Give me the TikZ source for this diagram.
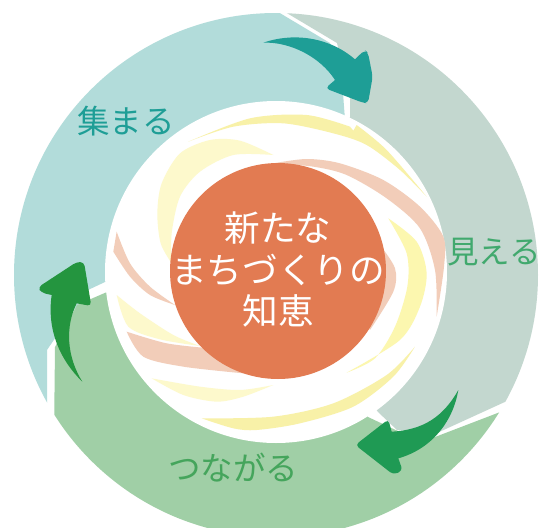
\documentclass[tikz,border=0pt]{standalone}
\usepackage{fontspec}
\newfontfamily\cjk{Noto Sans CJK JP}
\definecolor{ringteal}{HTML}{B2DCDA}
\definecolor{ringgray}{HTML}{C3D7CF}
\definecolor{ringgreen}{HTML}{A0CFA6}
\definecolor{swyel}{HTML}{F8F1A8}
\definecolor{swyelb}{HTML}{FCF7AF}
\definecolor{swpale}{HTML}{FDF9CC}
\definecolor{swpink}{HTML}{F2CDB9}
\definecolor{core}{HTML}{E27B52}
\definecolor{arteal}{HTML}{1E9E96}
\definecolor{argreen}{HTML}{1F9A54}
\definecolor{arleft}{HTML}{24953F}
\tikzset{
  labeltext/.style={font=\cjk\fontsize{32.5}{33}\selectfont,inner sep=0pt},
  coretext/.style={font=\cjk\fontsize{35.6}{36}\selectfont,text=white,inner sep=0pt},
  zoomed/.style={shift={#1},scale=1/3}
}
\begin{document}
\begin{tikzpicture}[x=1pt,y=-1pt]
\useasboundingbox (0,0) rectangle (542,528);
\fill[white] (0,0) rectangle (542,528);
% ring segments
\begin{scope}
\clip (276,275) circle[radius=262];
\fill[ringteal] (258,0) -- (0,0) -- (0,410) -- (47,410) -- (47,350) -- (88,290) -- (105,282) -- (276,272) -- (345,120) -- (343,93) -- (330,43) -- cycle;
\fill[ringgray] (265,0) -- (542,0) -- (542,385) -- (437,433) -- (397,430) -- (378,412) -- (276,272) -- (350,117) -- (350,97) -- (337,43) -- cycle;
\fill[ringgreen] (542,396) -- (435,437) -- (400,432) -- (368,417) -- (276,272) -- (107,292) -- (77,305) -- (55,347) -- (53,528) -- (542,528) -- cycle;
\end{scope}
% centre disc of the swirl
\fill[white] (276,272) circle[radius=171];
\begin{scope}[zoomed={(100,100)}]
% Y1
\fill[swyel] plot[smooth] coordinates {(265,125) (450,55) (620,45) (750,80)} -- (760,92) -- (770,75) -- plot[smooth] coordinates {(770,75) (860,150) (980,290)} -- plot[smooth] coordinates {(980,290) (900,210) (800,135) (700,100) (550,70) (400,80) (265,125)} -- cycle;
% Y2
\fill[swpale] plot[smooth] coordinates {(520,165) (420,122) (330,120) (240,160) (185,250) (172,340) (182,430) (215,490)} -- plot[smooth] coordinates {(215,490) (215,400) (240,290) (300,215) (400,165) (520,165)} -- cycle;
% P1
\fill[swpink] plot[smooth] coordinates {(520,190) (620,177) (720,190) (850,240) (960,320) (1030,410) (1032,500) (1010,650)} -- plot[smooth] coordinates {(1010,650) (1005,510) (960,385) (860,295) (740,225) (640,200) (520,190)} -- cycle;
% Y3
\fill[swyelb] plot[smooth] coordinates {(865,355) (950,425) (980,520) (960,620) (900,720) (740,818)} -- plot[smooth] coordinates {(740,818) (825,775) (885,680) (922,560) (920,460) (865,355)} -- cycle;
% P2
\fill[swpink] plot[smooth] coordinates {(840,435) (885,505) (880,575) (810,690)} -- (700,500) -- cycle;
% Y4
\fill[swyel] plot[smooth] coordinates {(945,740) (860,825) (700,910) (520,950) (305,955)} -- plot[smooth] coordinates {(305,955) (400,985) (470,990) (600,970) (760,920) (880,830) (945,740)} -- cycle;
% Y5
\fill[swpale] plot[smooth] coordinates {(155,835) (250,885) (350,905) (430,890) (520,855)} -- plot[smooth] coordinates {(520,855) (420,870) (300,860) (155,835)} -- cycle;
% P3
\fill[swpink] plot[smooth] coordinates {(80,695) (200,730) (330,745)} -- (430,820) -- plot[smooth] coordinates {(430,820) (250,800) (130,770) (80,695)} -- cycle;
% Y6
\fill[swpale] plot[smooth] coordinates {(50,585) (120,640) (220,705) (300,738)} -- plot[smooth] coordinates {(300,738) (180,718) (85,680) (50,585)} -- cycle;
% P4
\fill[swpink] plot[smooth] coordinates {(50,395) (90,490) (150,560) (225,615)} -- plot[smooth] coordinates {(225,615) (150,585) (90,530) (40,455)} -- cycle;
\end{scope}
% core
\fill[core] (278,271) circle[radius=108];
% arrows: head corners are rounded, the tail stays sharp
\begin{scope}[zoomed={(240,0)}]
\fill[arteal] (70,128) .. controls (150,100) and (260,105) .. (345,178) [rounded corners=4pt] -- (374,150) -- (384,158) -- (398,230) -- (384,310) -- (368,308) -- (256,265) [sharp corners] -- (285,240) .. controls (240,170) and (150,125) .. (70,128) -- cycle;
\end{scope}
\begin{scope}[zoomed={(340,370)}]
\fill[argreen] (355,60) .. controls (310,140) and (250,180) .. (155,185) [rounded corners=4pt] -- (145,148) -- (46,225) -- (160,314) -- (188,302) [sharp corners] -- (175,265) .. controls (280,235) and (340,150) .. (355,60) -- cycle;
\end{scope}
\begin{scope}[zoomed={(20,250)}]
\fill[arleft] (187,395) .. controls (140,320) and (135,230) .. (170,160) [rounded corners=4pt] -- (214,168) -- (192,36) -- (170,36) -- (54,112) -- (64,128) [sharp corners] -- (95,135) .. controls (80,240) and (120,330) .. (187,395) -- cycle;
\end{scope}
% labels
\node[labeltext,text=arteal] (gather) at (126,121) {集まる};
\node[labeltext,text=argreen!85!white,font=\cjk\fontsize{31.5}{32}\selectfont] (see) at (494,252) {見える};
\node[labeltext,text=arleft!85!white] (connect) at (233,468) {つながる};
\node[coretext] (l1) at (278,228) {新たな};
\node[coretext] (l2) at (278,270) {まちづくりの};
\node[coretext] (l3) at (278,311) {知恵};
\end{tikzpicture}
\end{document}
